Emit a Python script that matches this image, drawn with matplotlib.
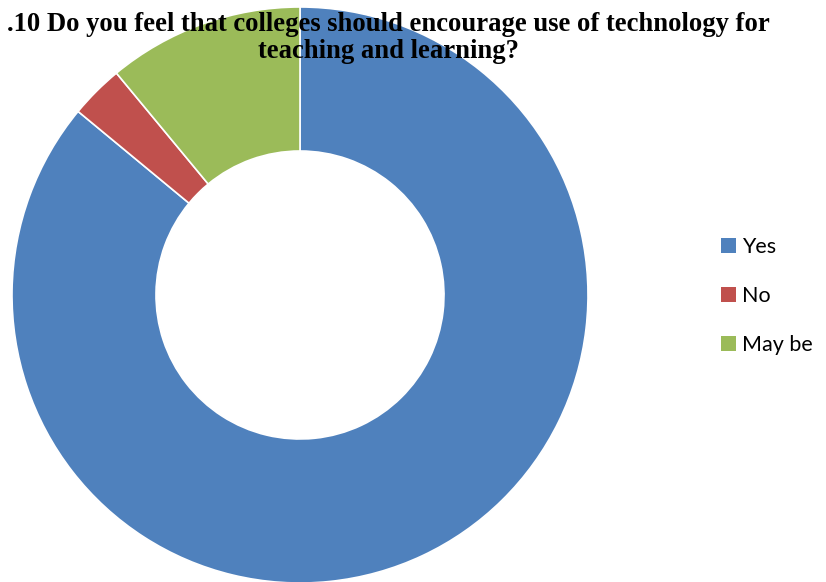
import matplotlib
matplotlib.use("Agg")
import matplotlib.pyplot as plt

categories = ["Yes", "No", "May be"]
values = [86, 3, 11]
colors = ["#4F81BD", "#C0504D", "#9BBB59"]
title = ".10 Do you feel that colleges should encourage use of technology for\nteaching and learning?"

W, H = 826, 582
fig = plt.figure(figsize=(W / 100, H / 100), dpi=100)
cx, cy, R = 300, 295, 288
ax = fig.add_axes([(cx - R) / W, (H - cy - R) / H, 2 * R / W, 2 * R / H])
wedges, _ = ax.pie(values, colors=colors, startangle=90, counterclock=False,
                   radius=1, wedgeprops=dict(width=0.5, edgecolor="white", linewidth=1.2))
ax.set_xlim(-1, 1)
ax.set_ylim(-1, 1)
ax.set_aspect("equal")
ax.axis("off")

fig.text(388 / W, 1 - 12 / H, title, ha="center", va="top", fontsize=19.2,
         fontweight="bold", family="Liberation Serif", linespacing=1.12)

leg = fig.legend(wedges, categories, loc="center left", bbox_to_anchor=(702 / W, 1 - 296 / H),
                 frameon=False, prop={"family": "Lato", "size": 15.5},
                 handlelength=0.7, handleheight=0.7, handletextpad=0.25, labelspacing=1.35)
for h in leg.legend_handles:
    h.set_edgecolor("none")

fig.savefig("out.png", dpi=100)
